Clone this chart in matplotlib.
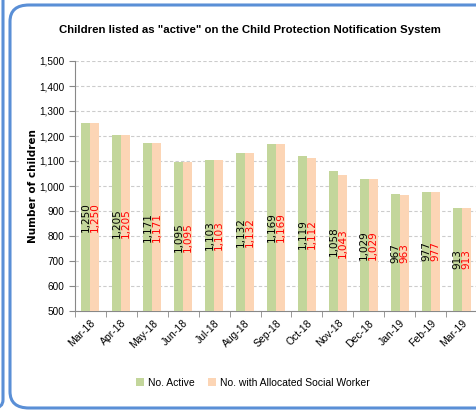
import numpy as np
import matplotlib.pyplot as plt
from matplotlib.patches import FancyBboxPatch
from matplotlib.ticker import FuncFormatter

# Dati
months = ['Mar-18', 'Apr-18', 'May-18', 'Jun-18', 'Jul-18', 'Aug-18', 'Sep-18',
          'Oct-18', 'Nov-18', 'Dec-18', 'Jan-19', 'Feb-19', 'Mar-19']
active = [1250, 1205, 1171, 1095, 1103, 1132, 1169, 1119, 1058, 1029, 967, 977, 913]
allocated = [1250, 1205, 1171, 1095, 1103, 1132, 1169, 1112, 1043, 1029, 963, 977, 913]

W, H = 477, 411
fig = plt.figure(figsize=(W / 100, H / 100), dpi=100)
plt.rcParams['font.family'] = ['Liberation Sans', 'DejaVu Sans']

# cornici blu
blue = '#5a8fd6'
fig.patches.append(FancyBboxPatch((10 / W, 3 / H), 500 / W, 403 / H,
                                  boxstyle='round,pad=0,rounding_size=0.04',
                                  transform=fig.transFigure, fill=False,
                                  edgecolor=blue, lw=2.2))
fig.patches.append(FancyBboxPatch((-100 / W, 3 / H), 103 / W, 420 / H,
                                  boxstyle='round,pad=0,rounding_size=0.02',
                                  transform=fig.transFigure, fill=False,
                                  edgecolor=blue, lw=2.2))

ax = fig.add_axes([75 / W, 1 - 311 / H, 402 / W, 250 / H])
x = np.arange(len(months))
bw = 0.29
b1 = ax.bar(x - bw / 2, active, bw, color='#c3d69b', label='No. Active', zorder=3)
b2 = ax.bar(x + bw / 2, allocated, bw, color='#fcd5b5',
            label='No. with Allocated Social Worker', zorder=3)

for i in range(len(months)):
    ax.text(x[i] - bw / 2, (active[i] + 500) / 2, f'{active[i]:,}', rotation=90,
            ha='center', va='center', fontsize=7.5, color='black',
            family='DejaVu Sans', zorder=4)
    ax.text(x[i] + bw / 2, (allocated[i] + 500) / 2, f'{allocated[i]:,}', rotation=90,
            ha='center', va='center', fontsize=7.5, color='red',
            family='DejaVu Sans', zorder=4)

ax.set_ylim(500, 1500)
ax.set_xlim(-0.5, len(months) - 0.5)
ax.set_yticks(np.arange(500, 1501, 100))
ax.yaxis.set_major_formatter(FuncFormatter(lambda v, p: f'{int(v):,}'))
ax.set_xticks(x)
ax.set_xticklabels(months, rotation=45, ha='right', rotation_mode='anchor', fontsize=7.5)
ax.set_xticks(np.arange(-0.5, len(months), 1), minor=True)
ax.tick_params(axis='x', which='major', length=0, pad=5)
ax.tick_params(axis='x', which='minor', length=4, color='#888888')
ax.tick_params(axis='y', labelsize=7.2, length=4, color='#888888')
ax.grid(axis='y', ls=(0, (3, 2)), color='#cccccc', lw=0.8, zorder=0)
for s in ['top', 'right']:
    ax.spines[s].set_visible(False)
ax.spines['left'].set_color('#888888')
ax.spines['bottom'].set_color('#888888')

ax.set_ylabel('Number of children', family='DejaVu Sans', fontweight='bold', fontsize=7.5)
ax.yaxis.set_label_coords(-0.092, 0.5)

fig.text(0.525, 1 - 30 / H, 'Children listed as "active" on the Child Protection Notification System',
         ha='center', va='center', fontsize=8.2, fontweight='bold')

fig.legend(handles=[b1, b2], loc='center', bbox_to_anchor=(0.53, 1 - 383 / H), ncol=2,
           frameon=False, fontsize=7.5, handlelength=0.8, handleheight=0.8,
           columnspacing=1.2, handletextpad=0.4)

plt.savefig('out.png', dpi=100)
